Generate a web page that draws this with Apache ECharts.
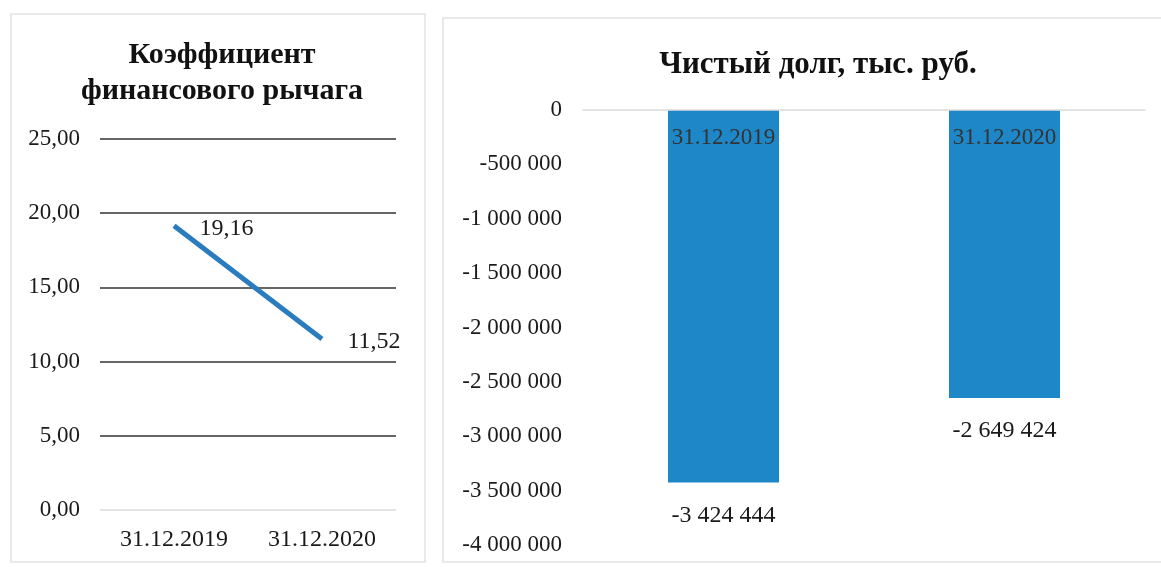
<!DOCTYPE html>
<html><head><meta charset="utf-8">
<script src="https://cdn.jsdelivr.net/npm/echarts@6/dist/echarts.min.js"></script>
<style>html,body{margin:0;padding:0;background:#fff}#c{width:1161px;height:567px}</style>
</head><body><div id="c"></div>
<script>
var categories = ['31.12.2019', '31.12.2020'];
var leverage = [19.16, 11.52];
var netDebt = [-3424444, -2649424];
var leftTitle = 'Коэффициент\nфинансового рычага';
var rightTitle = 'Чистый долг, тыс. руб.';

var FONT = '"Liberation Serif", "Times New Roman", serif';
function fmtComma(v){ return v.toFixed(2).replace('.', ','); }
function fmtSpace(v){
  var s = Math.abs(Math.round(v)).toString().replace(/\B(?=(\d{3})+(?!\d))/g, ' ');
  return (v < 0 ? '-' : '') + s;
}
var chart = echarts.init(document.getElementById('c'), null, {renderer:'canvas'});
chart.setOption({
  backgroundColor: '#fff',
  animation: false,
  graphic: [
    {type:'rect', shape:{x:11, y:14, width:414, height:548}, style:{fill:'none', stroke:'#e2e2e2', lineWidth:1.5}},
    {type:'rect', shape:{x:443, y:18, width:730, height:544}, style:{fill:'none', stroke:'#e2e2e2', lineWidth:1.5}}
  ],
  title: [
    {text: leftTitle, left: 217, top: 32, textAlign: 'center',
     textStyle:{fontFamily:FONT, fontWeight:'bold', fontSize:30, lineHeight:36, color:'#111'}},
    {text: rightTitle, left: 813, top: 44, textAlign: 'center',
     textStyle:{fontFamily:FONT, fontWeight:'bold', fontSize:31, color:'#111'}}
  ],
  grid: [
    {left:100, right:765, top:139, bottom:57, outerBoundsMode:'none', containLabel:false},
    {left:583, right:16, top:110, bottom:22, outerBoundsMode:'none', containLabel:false}
  ],
  xAxis: [
    {type:'category', gridIndex:0, data:categories, boundaryGap:true,
     axisLine:{show:false}, axisTick:{show:false},
     axisLabel:{fontFamily:FONT, fontSize:24, color:'#1a1a1a', margin:18}},
    {type:'category', gridIndex:1, data:categories, position:'top',
     axisLine:{show:true, onZero:false, lineStyle:{color:'#dcdcdc', width:1.5}},
     axisTick:{show:false},
     axisLabel:{inside:true, fontFamily:FONT, fontSize:23, color:'#333', margin:16}, z:10}
  ],
  yAxis: [
    {type:'value', gridIndex:0, min:0, max:25, interval:5,
     axisLine:{show:false}, axisTick:{show:false},
     axisLabel:{fontFamily:FONT, fontSize:23, color:'#1a1a1a', margin:20, formatter:fmtComma},
     splitLine:{show:true, lineStyle:{color:['#dcdcdc','#333','#333','#333','#333','#333'], width:1.5}}},
    {type:'value', gridIndex:1, min:-4000000, max:0, interval:500000,
     axisLine:{show:false}, axisTick:{show:false},
     axisLabel:{fontFamily:FONT, fontSize:23, color:'#1a1a1a', margin:21, formatter:fmtSpace},
     splitLine:{show:false}}
  ],
  series: [
    {type:'line', xAxisIndex:0, yAxisIndex:0, data:leverage, symbol:'circle', symbolSize:1, showSymbol:true,
     itemStyle:{color:'rgba(0,0,0,0)'},
     lineStyle:{color:'#2a7cbf', width:5},
     label:{show:true, position:'right', distance:25, offset:[0,3], fontFamily:FONT, fontSize:24, color:'#1a1a1a',
            formatter:function(p){return fmtComma(p.value);}}},
    {type:'bar', xAxisIndex:1, yAxisIndex:1, data:netDebt, barWidth:111,
     itemStyle:{color:'#1e87c8'},
     label:{show:true, position:'bottom', distance:21, fontFamily:FONT, fontSize:24, color:'#1a1a1a',
            formatter:function(p){return fmtSpace(p.value);}}}
  ]
});
</script></body></html>
